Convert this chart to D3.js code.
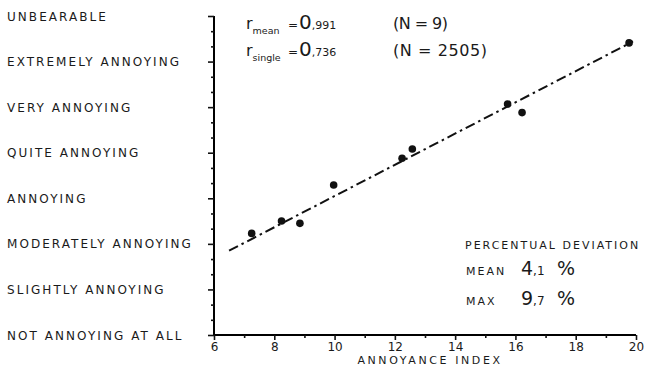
<!DOCTYPE html>
<html>
<head>
<meta charset="utf-8">
<script src="https://cdn.jsdelivr.net/npm/d3@7"></script>
<style>
  body { margin: 0; background: #fff; }
  svg { display: block; }
  text { fill: #1a1a1a; font-family: "DejaVu Sans", sans-serif; }
</style>
</head>
<body>
<div id="container"></div>
<script>
// rating categories, bottom to top
var categories = ["NOT ANNOYING AT ALL", "SLIGHTLY ANNOYING", "MODERATELY ANNOYING", "ANNOYING",
	"QUITE ANNOYING", "VERY ANNOYING", "EXTREMELY ANNOYING", "UNBEARABLE"];
// mean points: annoyance index vs mean rating (0 = not annoying at all)
var annoyanceIndex = [7.25, 8.24, 8.85, 9.97, 12.24, 12.58, 15.74, 16.22, 19.77];
var meanRating = [2.23, 2.50, 2.45, 3.29, 3.88, 4.08, 5.07, 4.88, 6.41];
// regression line
var fitRange = [6.5, 19.9];
var fitSlope = 0.3426, fitIntercept = -0.377;

var W = 646, H = 371;
var svg = d3.select("#container").append("svg")
	.attr("width", W).attr("height", H);

var x = d3.scaleLinear().domain([6, 20]).range([214, 636]);
var y = d3.scaleLinear().domain([0, 7]).range([335, 16]);

// y axis
var yAxis = svg.append("g")
	.attr("transform", "translate(" + x(6) + ",0)")
	.call(d3.axisLeft(y).tickValues(d3.range(0, 7.01, 1 / 3)).tickSize(3).tickFormat(""));
yAxis.selectAll(".tick line")
	.attr("x2", function(d) { return Math.abs(d - Math.round(d)) < 0.01 ? -6 : -3; });
yAxis.select(".domain").attr("stroke-width", 2).attr("d", "M0," + y(7) + "V" + y(0));
yAxis.selectAll("line").attr("stroke", "#111").attr("stroke-width", 1.6);

// x axis
var xAxis = svg.append("g")
	.attr("transform", "translate(0," + y(0) + ")")
	.call(d3.axisBottom(x).tickValues(d3.range(6, 20.01, 1)).tickSize(4)
		.tickFormat(function(d) { return d % 2 === 0 ? d : ""; }));
xAxis.select(".domain").attr("stroke-width", 2).attr("d", "M" + x(6) + ",0H" + x(20));
xAxis.selectAll(".tick line").attr("stroke", "#111").attr("stroke-width", 1.6)
	.attr("y2", function(d) { return d % 2 === 0 ? 5 : 3; });
xAxis.selectAll(".tick text")
	.attr("y", 7)
	.style("font-family", "DejaVu Sans, sans-serif")
	.style("font-size", "12px")
	.style("fill", "#1a1a1a");

svg.append("text")
	.attr("x", 430).attr("y", 364)
	.attr("text-anchor", "middle")
	.style("font-size", "11px")
	.style("letter-spacing", "2.6px")
	.text("ANNOYANCE INDEX");

// category labels
svg.selectAll(".cat")
	.data(categories).enter()
	.append("text")
	.attr("class", "cat")
	.attr("x", 7)
	.attr("y", function(d, i) { return y(i) + 4.5; })
	.style("font-size", "12px")
	.style("letter-spacing", "2.05px")
	.text(function(d) { return d; });

// regression line
var line = d3.line()
	.x(function(d) { return x(d); })
	.y(function(d) { return y(fitSlope * d + fitIntercept); });
svg.append("path")
	.attr("d", line(fitRange))
	.attr("fill", "none")
	.attr("stroke", "#111")
	.attr("stroke-width", 2)
	.attr("stroke-dasharray", "10,4,2.5,4");

// points
svg.selectAll(".pt")
	.data(annoyanceIndex).enter()
	.append("circle")
	.attr("class", "pt")
	.attr("cx", function(d) { return x(d); })
	.attr("cy", function(d, i) { return y(meanRating[i]); })
	.attr("r", 3.8)
	.attr("fill", "#111");

// correlation text
function stat(yy, sub, big, small, n, nWidth) {
	var t = svg.append("text").attr("x", 246).attr("y", yy);
	t.append("tspan").style("font-size", "16px").text("r");
	t.append("tspan").attr("dy", 5).style("font-size", "9.5px").text(sub);
	t.append("tspan").attr("x", 288).attr("dy", -5).style("font-size", "12px").text("=");
	t.append("tspan").attr("x", 299).style("font-size", "20px").text(big);
	t.append("tspan").style("font-size", "11px").text(small);
	svg.append("text").attr("x", 393).attr("y", yy)
		.style("font-size", "16px")
		.attr("textLength", nWidth)
		.attr("lengthAdjust", "spacing")
		.text(n);
}
stat(29, "mean", "0", ",991", "(N = 9)", 55);
stat(56, "single", "0", ",736", "(N = 2505)", 94);

// percentual deviation block
svg.append("text").attr("x", 465).attr("y", 249)
	.style("font-size", "11px").style("letter-spacing", "2px")
	.text("PERCENTUAL DEVIATION");
function dev(yy, label, big, small) {
	svg.append("text").attr("x", 466).attr("y", yy)
		.style("font-size", "11px").style("letter-spacing", "2px").text(label);
	var t = svg.append("text").attr("x", 521).attr("y", yy);
	t.append("tspan").style("font-size", "19px").text(big);
	t.append("tspan").style("font-size", "12px").text(small);
	t.append("tspan").attr("x", 557).style("font-size", "19px").text("%");
}
dev(275, "MEAN", "4", ",1");
dev(305, "MAX", "9", ",7");
</script>
</body>
</html>
